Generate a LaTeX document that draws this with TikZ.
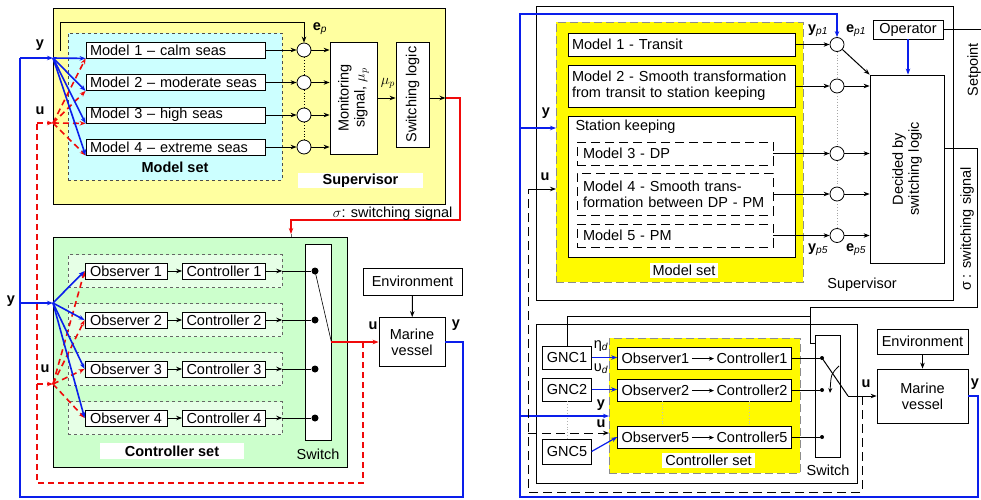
\documentclass[tikz,border=0pt]{standalone}
\usepackage{fontspec}
\setmainfont{Liberation Sans}
\usepackage{tikz}
\usetikzlibrary{arrows.meta, positioning, calc}
\definecolor{supcolor}{RGB}{255,255,160}
\definecolor{modcolor}{RGB}{204,255,255}
\definecolor{ctlcolor}{RGB}{204,255,204}
\definecolor{setcolor}{RGB}{255,250,0}
\definecolor{ycolor}{RGB}{10,30,235}
\definecolor{ucolor}{RGB}{240,10,10}
\newcommand{\occhain}[1]{Observer#1\,\tikz[baseline=-0.6ex]\draw[-{Stealth[length=5pt,width=4pt]}] (0,0) -- (22pt,0);\,Controller#1}

\begin{document}
\begin{tikzpicture}[
    x=1pt, y=-1pt,
    >={Stealth[length=6pt, width=4.5pt]},
    every node/.style={font=\fontsize{14.5}{16}\selectfont},
    box/.style={draw, fill=white, line width=0.8pt, inner xsep=4pt, inner ysep=1pt},
    mbox/.style={box, text width=#1, align=left},
    dbox/.style={box, dash pattern=on 9pt off 5pt, inner xsep=6pt, text width=#1, align=left},
    sumc/.style={circle, draw, fill=white, line width=0.8pt, minimum size=14pt, inner sep=0pt},
    dot/.style={circle, fill=black, minimum size=7pt, inner sep=0pt},
    group/.style={draw=black!60, dashed, line width=0.6pt, fill=white!50!ctlcolor, inner sep=0pt},
    wlabel/.style={fill=white, inner sep=1pt},
    lbl/.style={font=\fontsize{14.5}{16}\selectfont\bfseries},
    sig/.style={line width=1pt},
    ysig/.style={ycolor, line width=1.6pt},
    usig/.style={ucolor, line width=1.6pt, dash pattern=on 6pt off 4pt},
    ythin/.style={ycolor, line width=1.2pt},
    udash/.style={line width=1pt, dash pattern=on 9pt off 5pt},
]
    \useasboundingbox (0,0) rectangle (981,499);

    % Supervisor (left)
    \node[draw, line width=1pt, fill=supcolor, minimum width=392pt, minimum height=196pt, inner sep=0pt] (lsup) at (249,106) {};
    \node[draw=black!70, dashed, line width=0.6pt, fill=modcolor, minimum width=214pt, minimum height=147pt, inner sep=0pt] (lmset) at (175,106.5) {};

    \node[mbox=171pt, minimum height=16pt] (lm1) at (175.5,50) {Model 1 – calm seas};
    \node[mbox=171pt, minimum height=16pt] (lm2) at (175.5,82.5) {Model 2 – moderate seas};
    \node[mbox=171pt, minimum height=16pt] (lm3) at (175.5,115) {Model 3 – high seas};
    \node[mbox=171pt, minimum height=16pt] (lm4) at (175.5,147) {Model 4 – extreme seas};
    \node[lbl] at (175,167) {Model set};

    \node[sumc] (ls1) at (304,50) {};
    \node[sumc] (ls2) at (304,82.5) {};
    \node[sumc] (ls3) at (304,115) {};
    \node[sumc] (ls4) at (304,147) {};
    \draw[dotted, line width=0.8pt] (ls1) -- (ls2);
    \draw[dotted, line width=0.8pt] (ls2) -- (ls3);
    \draw[dotted, line width=0.8pt] (ls3) -- (ls4);

    \node[box, minimum width=47pt, minimum height=112pt] (lmon) at (353.5,98) {};
    \node[rotate=90, align=center] at (lmon) {Monitoring\\signal, $\mu_p$};
    \node[box, minimum width=33pt, minimum height=105pt] (lswl) at (412.5,94.5) {};
    \node[rotate=90] at (lswl) {Switching logic};
    \node[wlabel, lbl, minimum width=125pt, minimum height=15pt] at (360.5,180.5) {Supervisor};

    \draw[sig, ->] (lm1) -- (ls1);
    \draw[sig, ->] (lm2) -- (ls2);
    \draw[sig, ->] (lm3) -- (ls3);
    \draw[sig, ->] (lm4) -- (ls4);
    \draw[sig, ->] (ls1) -- (ls1 -| lmon.west);
    \draw[sig, ->] (ls2) -- (ls2 -| lmon.west);
    \draw[sig, ->] (ls3) -- (ls3 -| lmon.west);
    \draw[sig, ->] (ls4) -- (ls4 -| lmon.west);
    \draw[sig, ->] (lmon.east) -- (lmon.east -| lswl.west);
    \node at (388,83) {$\mu_p$};
    \draw[sig, ->] (lmon.east -| lswl.east) -- (lmon.east -| lsup.east);
    \coordinate (lyfb) at (60,51);
    \draw[sig, ->] (lyfb) -- (60,22) -| (ls1);
    \node at (320,29) {\textbf{e}\textsubscript{\textit{p}}};

    % switching signal
    \coordinate (lsig) at (291,234);
    \coordinate (lbar) at (316,254);
    \draw[ucolor, line width=1.3pt, ->] (lmon.east -| lsup.east) -- (460,98) -- (460,220) -| (lsig);
    \draw[black!60, line width=0.8pt, -{Bar[width=12pt]}] (lsig) |- (lbar);
    \node[anchor=east] at (456,214) {$\sigma$: switching signal};

    % Controller set (left)
    \node[draw, line width=1pt, fill=ctlcolor, minimum width=294pt, minimum height=230pt, inner sep=0pt] (lcset) at (200,352) {};
    \node[group, minimum width=214pt, minimum height=33pt] (lg1) at (175,271) {};
    \node[group, minimum width=214pt, minimum height=33pt] (lg2) at (175,320) {};
    \node[group, minimum width=214pt, minimum height=33pt] (lg3) at (175,369) {};
    \node[group, minimum width=214pt, minimum height=33pt] (lg4) at (175,418) {};

    \node[box, minimum width=82pt, minimum height=16pt] (lo1) at (126,271) {Observer 1};
    \node[box, minimum width=82pt, minimum height=16pt] (lo2) at (126,320) {Observer 2};
    \node[box, minimum width=82pt, minimum height=16pt] (lo3) at (126,369) {Observer 3};
    \node[box, minimum width=82pt, minimum height=16pt] (lo4) at (126,418) {Observer 4};
    \node[box, minimum width=82pt, minimum height=16pt] (lc1) at (224,271) {Controller 1};
    \node[box, minimum width=82pt, minimum height=16pt] (lc2) at (224,320) {Controller 2};
    \node[box, minimum width=82pt, minimum height=16pt] (lc3) at (224,369) {Controller 3};
    \node[box, minimum width=82pt, minimum height=16pt] (lc4) at (224,418) {Controller 4};
    \node[wlabel, lbl, minimum width=144pt, minimum height=16pt] at (172,451) {Controller set};

    \node[box, minimum width=26pt, minimum height=196pt, inner sep=0pt] (lsw) at (318,342) {};
    \node at (318,454) {Switch};
    \node[dot] (ld1) at (315,271) {};
    \node[dot] (ld2) at (315,320) {};
    \node[dot] (ld3) at (315,369) {};
    \node[dot] (ld4) at (315,418) {};

    \draw[sig, ->] (lo1) -- (lc1);
    \draw[sig, ->] (lo2) -- (lc2);
    \draw[sig, ->] (lo3) -- (lc3);
    \draw[sig, ->] (lo4) -- (lc4);
    \draw[sig, ->] (lc1) -- (lc1 -| lg1.east);
    \draw[sig, ->] (lc2) -- (lc2 -| lg2.east);
    \draw[sig, ->] (lc3) -- (lc3 -| lg3.east);
    \draw[sig, ->] (lc4) -- (lc4 -| lg4.east);
    \draw[sig] (lc1 -| lg1.east) -- (ld1);
    \draw[sig] (lc2 -| lg2.east) -- (ld2);
    \draw[sig] (lc3 -| lg3.east) -- (ld3);
    \draw[sig] (lc4 -| lg4.east) -- (ld4);
    \draw[line width=0.6pt] (ld1.center) -- (lsw.east);

    \node[box, minimum width=66pt, minimum height=49pt, align=center] (lmv) at (412,342) {Marine\\vessel};
    \node[box, minimum width=99pt, minimum height=27pt] (lenv) at (412.5,281.5) {Environment};
    \draw[sig, ->] (lenv) -- (lmv);
    \draw[ucolor, line width=1.3pt, ->] (lsw.east) -- (lmv.west);
    \node[lbl] at (373,326) {u};
    \node[lbl] at (456,325) {y};

    % feedback loops (left)
    \coordinate (lyS) at (53,58);
    \coordinate (lyC) at (53,303);
    \coordinate (luS) at (53,123);
    \coordinate (luC) at (53,384);
    \draw[ysig] (lmv.east) -| (463,497) -| (20,58);
    \draw[ysig, ->] (20,58) -- (lyS);
    \draw[ysig, ->] (20,303) -- (lyC);
    \draw[usig] (363,342) -- (363,483) -| (37,123);
    \draw[usig, ->] (37,123) -- (luS);
    \draw[usig, ->] (37,384) -- (luC);
    \node[lbl] at (40,45) {y};
    \node[lbl] at (40,111) {u};
    \node[lbl] at (11,301) {y};
    \node[lbl] at (45,369) {u};

    \draw[usig, ->] (luS) -- (lm1.south west);
    \draw[usig, ->] (luS) -- (lm2.south west);
    \draw[usig, ->] (luS) -- (lm3.south west);
    \draw[usig, ->] (luS) -- (lm4.south west);
    \draw[ysig, ->] (lyS) -- (lm1.south west);
    \draw[ysig, ->] (lyS) -- (lm2.south west);
    \draw[ysig, ->] (lyS) -- (lm3.south west);
    \draw[ysig, ->] (lyS) -- (lm4.south west);
    \draw[usig, ->] (luC) -- (lo1.west);
    \draw[usig, ->] (luC) -- (lo2.west);
    \draw[usig, ->] (luC) -- (lo3.west);
    \draw[usig, ->] (luC) -- (lo4.west);
    \draw[ysig, ->] (lyC) -- (lo1.west);
    \draw[ysig, ->] (lyC) -- (lo2.west);
    \draw[ysig, ->] (lyC) -- (lo3.west);
    \draw[ysig, ->] (lyC) -- (lo4.west);

    % Supervisor (right)
    \node[draw, line width=1pt, minimum width=417pt, minimum height=294pt, inner sep=0pt] (rsup) at (744.5,153) {};
    \node[draw=black!45, line width=1pt, dash pattern=on 8pt off 4pt, fill=setcolor, minimum width=247pt, minimum height=260pt, inner sep=0pt] (rmset) at (679.5,152) {};
    \node[mbox=219pt, minimum height=23pt] (rn1) at (681.5,44.5) {Model 1 - Transit};
    \node[mbox=219pt, minimum height=42pt] (rn2) at (681.5,86) {Model 2 - Smooth transformation\\from transit to station keeping};
    \node[box, minimum width=227pt, minimum height=141pt, inner sep=0pt] (rsk) at (681.5,186.5) {};
    \node[anchor=west] at (572,127) {Station keeping};
    \node[dbox=184pt, minimum height=23pt] (rn3) at (675,153.5) {Model 3 - DP};
    \node[dbox=184pt, minimum height=42pt] (rn4) at (675,194) {Model 4 - Smooth trans-\\formation between DP - PM};
    \node[dbox=184pt, minimum height=23pt] (rn5) at (675,235.5) {Model 5 - PM};
    \node[wlabel, minimum width=68pt, minimum height=15pt] at (684,270) {Model set};

    \node[sumc] (rs1) at (837,44.5) {};
    \node[sumc] (rs2) at (837,86) {};
    \node[sumc] (rs3) at (837,153.5) {};
    \node[sumc] (rs4) at (837,194) {};
    \node[sumc] (rs5) at (837,235.5) {};
    \draw[dotted, black!35, line width=0.8pt] (rs1) -- (rs2);
    \draw[dotted, black!35, line width=0.8pt] (rs2) -- (rs3);
    \draw[dotted, black!35, line width=0.8pt] (rs3) -- (rs4);
    \draw[dotted, black!35, line width=0.8pt] (rs4) -- (rs5);

    \node[box, minimum width=74pt, minimum height=188pt] (rdec) at (907,169) {};
    \node[rotate=90, align=center] at (rdec) {Decided by\\switching logic};
    \node[box, minimum width=70pt, minimum height=19pt] (rop) at (908,29.5) {Operator};
    \node at (862,285) {Supervisor};

    \draw[sig, ->] (rn1) -- (rs1);
    \draw[sig, ->] (rn2) -- (rs2);
    \draw[sig, ->] (rn3) -- (rs3);
    \draw[sig, ->] (rn4) -- (rs4);
    \draw[sig, ->] (rn5) -- (rs5);
    \draw[sig, ->] (rs1) -- (rdec.north west);
    \draw[sig, ->] (rs2) -- (rs2 -| rdec.west);
    \draw[sig, ->] (rs3) -- (rs3 -| rdec.west);
    \draw[sig, ->] (rs4) -- (rs4 -| rdec.west);
    \draw[sig, ->] (rs5) -- (rs5 -| rdec.west);
    \node at (818,31) {\textbf{y}\textsubscript{\textit{p1}}};
    \node at (856,31) {\textbf{e}\textsubscript{\textit{p1}}};
    \node at (818,250) {\textbf{y}\textsubscript{\textit{p5}}};
    \node at (856,250) {\textbf{e}\textsubscript{\textit{p5}}};

    \draw[ythin, ->] (rop) -- (rop |- rdec.north);
    \coordinate (rset) at (981,29.5);
    \draw[sig] (rop.east) -- (rset);
    \node[rotate=90] at (974,70) {Setpoint};

    % switching signal (right)
    \coordinate (rsig) at (944,148);
    \coordinate (rbar) at (828,343);
    \coordinate (rjoin) at (810,316);
    \draw[sig, -{Bar[width=12pt]}] (rsig) -- (977,148) -- (977,307) -- (810,307) |- (rbar);
    \node[rotate=90] at (967,229) {σ : switching signal};

    % Controller set (right)
    \node[draw, line width=1pt, minimum width=321pt, minimum height=159pt, inner sep=0pt] (rcbox) at (696.5,403.5) {};
    \node[draw=black!45, line width=1pt, dash pattern=on 8pt off 4pt, fill=setcolor, minimum width=191pt, minimum height=135pt, inner sep=0pt] (rcset) at (704.5,405.5) {};
    \node[box, minimum width=173pt, minimum height=22pt] (roc1) at (704.5,358) {\occhain{1}};
    \node[box, minimum width=173pt, minimum height=22pt] (roc2) at (704.5,390) {\occhain{2}};
    \node[box, minimum width=173pt, minimum height=22pt] (roc5) at (704.5,437) {\occhain{5}};
    \node[wlabel, minimum width=93pt, minimum height=15pt] at (708.5,460.5) {Controller set};
    \draw[dotted, black!25, line width=0.8pt] (662,401) -- (662,426);
    \draw[dotted, black!25, line width=0.8pt] (749,401) -- (749,426);

    \node[box, minimum width=46pt, minimum height=23pt] (rg1) at (567,357.5) {GNC1};
    \node[box, minimum width=46pt, minimum height=23pt] (rg2) at (567,389.5) {GNC2};
    \node[box, minimum width=46pt, minimum height=25pt] (rg5) at (567,451.5) {GNC5};
    \draw[dotted, black!30, line width=0.8pt] (rg2) -- (rg5);
    \draw[sig] (rg1.north) |- (rjoin);

    \draw[ythin, ->] (rg1) -- (rg1 -| roc1.west);
    \draw[ythin, ->] (rg2) -- (rg2 -| roc2.west);
    \draw[ythin, ->] (rg5.east) -- (roc5.west);
    \node at (601,346) {η\textsubscript{\textit{d}}};
    \node at (601,369) {υ\textsubscript{\textit{d}}};

    \node[box, minimum width=25pt, minimum height=122pt, inner sep=0pt] (rsw) at (827.5,396) {};
    \node at (828,470) {Switch};
    \node[dot, minimum size=4pt] (rk1) at (822,358) {};
    \node[dot, minimum size=4pt] (rk2) at (822,390) {};
    \node[dot, minimum size=4pt] (rk5) at (822,437) {};
    \draw[sig] (roc1) -- (rk1);
    \draw[sig] (roc2) -- (rk2);
    \draw[sig] (roc5) -- (rk5);
    \coordinate (rarm) at (848,396);
    \draw[sig] (rk1.center) -- (rarm);
    \draw[line width=0.8pt, -{Stealth[length=5pt, width=4pt]}] (839,366) .. controls (831,374) .. (830,393);

    \node[box, minimum width=91pt, minimum height=54pt, align=center] (rmv) at (922.5,396) {Marine\\vessel};
    \node[box, minimum width=91pt, minimum height=25pt] (renv) at (922.5,341.5) {Environment};
    \draw[sig, ->] (renv) -- (rmv);
    \draw[sig, ->] (rarm) -- (rmv);
    \node[lbl] at (866,384) {u};
    \node[lbl] at (975,384) {y};

    % feedback loops (right)
    \coordinate (ryS) at (556,128);
    \coordinate (ruS) at (556,189);
    \coordinate (ryC) at (609,416);
    \coordinate (ruC) at (609,433);
    \draw[ythin, ->] (rmv.east) -| (978,497) -| (520,14) -| (rs1);
    \draw[ythin, ->] (520,128) -- (ryS);
    \draw[ythin, ->] (520,416) -- (ryC);
    \draw[udash] (862,396) -- (862,492) -| (528,189);
    \draw[sig, ->] (528,189) -- (ruS);
    \draw[udash, ->] (528,433) -- (ruC);
    \node[lbl] at (546,113) {y};
    \node[lbl] at (545,177) {u};
    \node[lbl] at (601,405) {y};
    \node[lbl] at (601,424) {u};
\end{tikzpicture}
\end{document}
